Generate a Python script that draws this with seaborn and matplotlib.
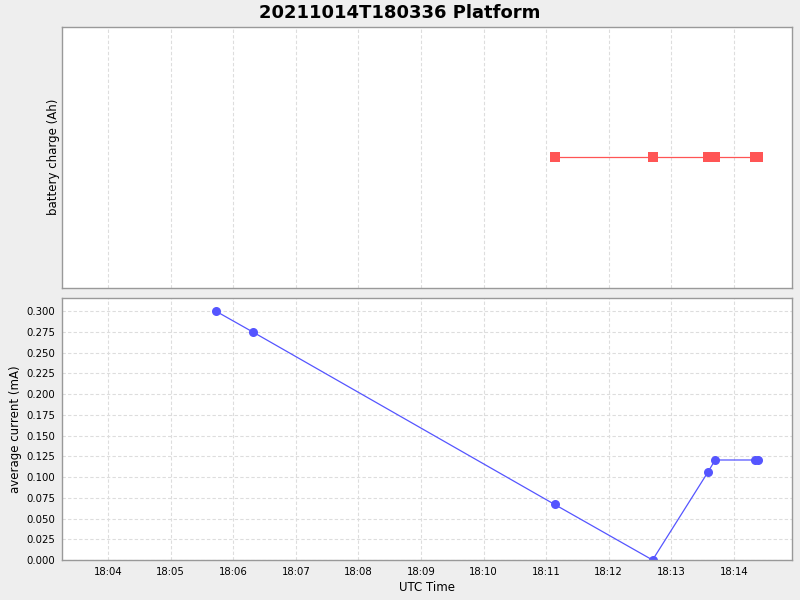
import matplotlib
matplotlib.use("Agg")
import matplotlib.pyplot as plt
import matplotlib.dates as mdates
import seaborn as sns
import pandas as pd

sns.set_style("white")
plt.rcParams['font.family'] = ['DejaVu Sans']
plt.rcParams['text.color'] = 'black'
plt.rcParams['axes.labelcolor'] = 'black'
plt.rcParams['xtick.color'] = 'black'
plt.rcParams['ytick.color'] = 'black'

title = "20211014T180336 Platform"
current_times = ["18:05:43", "18:06:19", "18:11:08", "18:12:42",
                 "18:13:35", "18:13:42", "18:14:20", "18:14:23"]
current_values = [0.300, 0.2745, 0.067, 0.000, 0.1057, 0.1205, 0.1205, 0.1205]
battery_times = ["18:11:08", "18:12:42", "18:13:35", "18:13:42", "18:14:20", "18:14:23"]
battery_values = [0.0, 0.0, 0.0, 0.0, 0.0, 0.0]
x_start, x_end = "18:03:16", "18:14:56"
y_current_max = 0.3157

day = "2021-10-14 "
cur = pd.DataFrame({"t": pd.to_datetime([day + t for t in current_times]),
                    "v": current_values})
bat = pd.DataFrame({"t": pd.to_datetime([day + t for t in battery_times]),
                    "v": battery_values})
xmin = pd.Timestamp(day + x_start)
xmax = pd.Timestamp(day + x_end)

bg = "#EEEEEE"
fig = plt.figure(figsize=(8, 6), dpi=100, facecolor=bg)
W, H = 800, 600
L, R = 62.3, 792.3
ax1 = fig.add_axes([L / W, (H - 288) / H, (R - L) / W, (288 - 26.5) / H])
ax2 = fig.add_axes([L / W, (H - 560) / H, (R - L) / W, (560 - 298) / H])

sns.lineplot(data=bat, x="t", y="v", ax=ax1, color="#FF5555", linewidth=0.9,
             marker="s", markersize=6.5, markeredgewidth=0, markerfacecolor="#FF5555")
sns.lineplot(data=cur, x="t", y="v", ax=ax2, color="#5555FF", linewidth=0.9,
             marker="o", markersize=6.5, markeredgewidth=0, markerfacecolor="#5555FF")

grid_kw = dict(color="#DDDDDD", linestyle=(0, (3, 2)), linewidth=0.8)
for ax in (ax1, ax2):
    ax.set_facecolor("white")
    ax.set_xlim(xmin, xmax)
    ax.xaxis.set_major_locator(mdates.MinuteLocator(interval=1))
    ax.xaxis.set_major_formatter(mdates.DateFormatter("%H:%M"))
    ax.grid(True, axis="x", **grid_kw)
    for s in ax.spines.values():
        s.set_color("#999999")
        s.set_linewidth(1.0)
    ax.tick_params(axis="both", direction="out", length=3, width=0.8,
                   color="#999999", labelcolor="black", labelsize=7.3, pad=2)
    ax.set_axisbelow(True)

ax1.set_ylim(-1, 1)
ax1.set_yticks([])
ax1.tick_params(axis="x", length=0, labelbottom=False)
ax1.set_xlabel("")
ax1.set_ylabel("battery charge (Ah)", fontsize=8.5, labelpad=2)

ax2.set_ylim(0, y_current_max)
ax2.set_yticks([i * 0.025 for i in range(13)])
ax2.yaxis.set_major_formatter(matplotlib.ticker.FormatStrFormatter("%.3f"))
ax2.grid(True, axis="y", **grid_kw)
ax2.set_xlabel("UTC Time", fontsize=8.5, labelpad=3)
ax2.set_ylabel("average current (mA)", fontsize=8.5, labelpad=3)

fig.text(0.5, 1 - 12.5 / H, title, ha="center", va="center",
         fontsize=13, fontweight="bold", color="black")

fig.savefig("out.png", dpi=100, facecolor=bg)
